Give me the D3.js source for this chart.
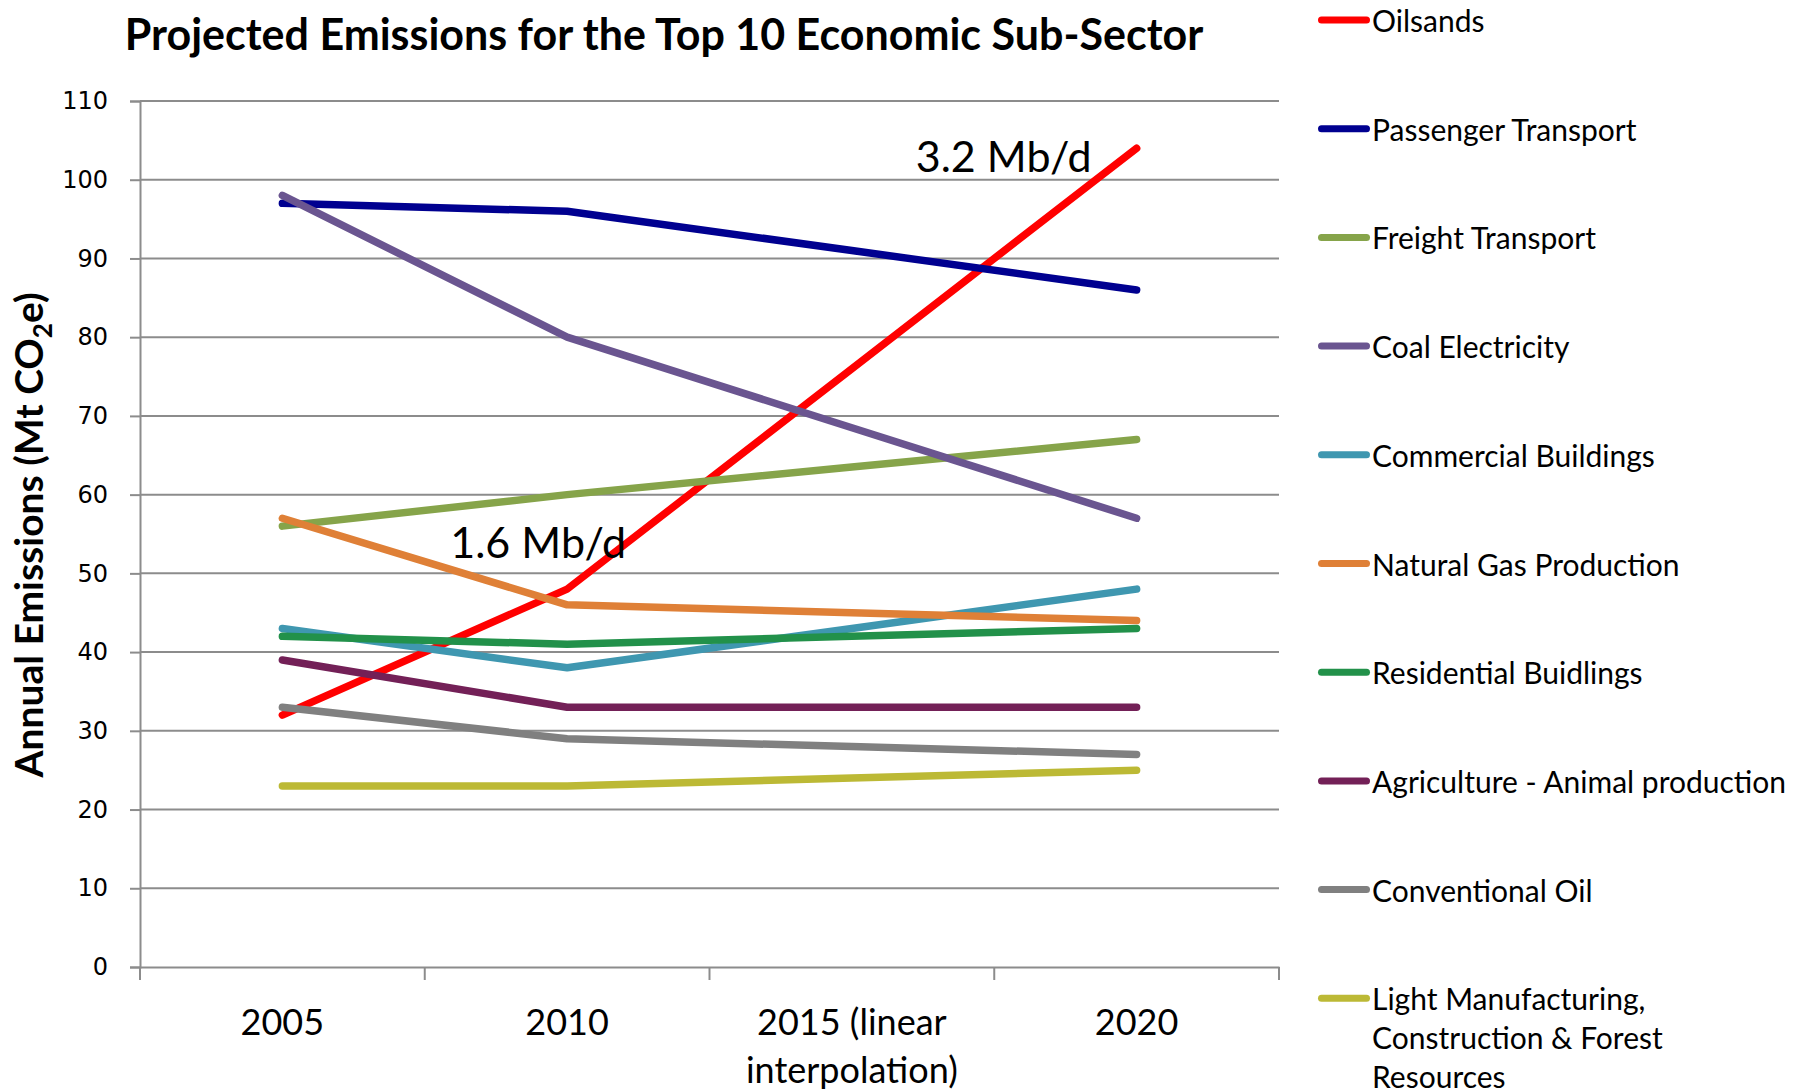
<!DOCTYPE html>
<html>
<head>
<meta charset="utf-8">
<script src="https://cdn.jsdelivr.net/npm/d3@7"></script>
<style>
  body { margin: 0; background: #fff; }
  text { font-family: Lato, "Open Sans", sans-serif; fill: #000; }
</style>
</head>
<body>
<div id="chart"></div>
<script>
// Data (Mt CO2e)
var categories = ["2005", "2010", "2015 (linear interpolation)", "2020"];
var categoryLines = [["2005"], ["2010"], ["2015 (linear", "interpolation)"], ["2020"]];
var seriesNames = ["Oilsands", "Passenger Transport", "Freight Transport", "Coal Electricity",
                   "Commercial Buildings", "Natural Gas Production", "Residential Buidlings",
                   "Agriculture - Animal production", "Conventional Oil",
                   "Light Manufacturing, Construction & Forest Resources"];
var legendLines = [["Oilsands"], ["Passenger Transport"], ["Freight Transport"], ["Coal Electricity"],
                   ["Commercial Buildings"], ["Natural Gas Production"], ["Residential Buidlings"],
                   ["Agriculture - Animal production"], ["Conventional Oil"],
                   ["Light Manufacturing,", "Construction & Forest", "Resources"]];
var oilsands    = [32, 48, 76, 104];
var passenger   = [97, 96, 91, 86];
var freight     = [56, 60, 63.5, 67];
var coal        = [98, 80, 68.5, 57];
var commercial  = [43, 38, 43, 48];
var naturalGas  = [57, 46, 45, 44];
var residential = [42, 41, 42, 43];
var agriculture = [39, 33, 33, 33];
var convOil     = [33, 29, 28, 27];
var lightManuf  = [23, 23, 24, 25];
var seriesValues = [oilsands, passenger, freight, coal, commercial, naturalGas,
                    residential, agriculture, convOil, lightManuf];
var colors = ["#ff0000", "#000090", "#86a44a", "#6a5590", "#3f97b0", "#df8037",
              "#22914a", "#732057", "#808080", "#bcb935"];
var yTicks = [0, 10, 20, 30, 40, 50, 60, 70, 80, 90, 100, 110];
var annotations = [
  { text: "1.6 Mb/d", cat: 1, value: 48 },
  { text: "3.2 Mb/d", cat: 3, value: 104 }
];

var width = 1811, height = 1091;
var plot = { left: 140, right: 1279, top: 101, bottom: 967 };

var svg = d3.select("#chart").append("svg")
    .attr("width", width)
    .attr("height", height)
    .style("background", "#fff");

var x = d3.scaleBand().domain(categories).range([plot.left, plot.right]).padding(0);
var y = d3.scaleLinear().domain([0, 110]).range([plot.bottom, plot.top]);

// gridlines
svg.append("g")
  .selectAll("line")
  .data(yTicks.filter(function(d) { return d > 0; }))
  .enter().append("line")
  .attr("x1", plot.left).attr("x2", plot.right)
  .attr("y1", function(d) { return y(d); })
  .attr("y2", function(d) { return y(d); })
  .attr("stroke", "#8c8c8c")
  .attr("stroke-width", 2);

// y axis
var yAxis = svg.append("g")
  .attr("transform", "translate(" + plot.left + ",0)")
  .call(d3.axisLeft(y).tickValues(yTicks).tickSize(10).tickPadding(22));
yAxis.select(".domain").attr("stroke", "#8c8c8c").attr("stroke-width", 2);
yAxis.selectAll(".tick line").attr("stroke", "#8c8c8c").attr("stroke-width", 2);
yAxis.selectAll(".tick text")
  .style("font-family", "'DejaVu Sans', sans-serif")
  .style("font-size", "24px")
  .attr("fill", "#000");

// x axis: line, boundary ticks, labels
var xAxis = svg.append("g")
  .attr("transform", "translate(0," + plot.bottom + ")")
  .call(d3.axisBottom(x).tickSize(0).tickFormat(""));
xAxis.select(".domain").attr("stroke", "#8c8c8c").attr("stroke-width", 2);

var boundaries = d3.range(categories.length + 1).map(function(i) {
  return x.range()[0] + i * x.step();
});
svg.append("g")
  .selectAll("line")
  .data(boundaries)
  .enter().append("line")
  .attr("x1", function(d) { return d; })
  .attr("x2", function(d) { return d; })
  .attr("y1", plot.bottom)
  .attr("y2", plot.bottom + 13)
  .attr("stroke", "#8c8c8c")
  .attr("stroke-width", 2);

svg.append("g")
  .selectAll("text")
  .data(categories)
  .enter().append("text")
  .attr("text-anchor", "middle")
  .style("font-size", "36px")
  .attr("x", function(d) { return x(d) + x.bandwidth() / 2; })
  .attr("y", 1035)
  .each(function(d, i) {
    var t = d3.select(this);
    categoryLines[i].forEach(function(line, j) {
      t.append("tspan")
        .attr("x", x(d) + x.bandwidth() / 2)
        .attr("dy", j == 0 ? 0 : 48)
        .text(line);
    });
  });

// series lines
var line = d3.line()
  .x(function(d, i) { return x(categories[i]) + x.bandwidth() / 2; })
  .y(function(d) { return y(d); });

svg.append("g")
  .selectAll("path")
  .data(seriesValues)
  .enter().append("path")
  .attr("d", line)
  .attr("fill", "none")
  .attr("stroke", function(d, i) { return colors[i]; })
  .attr("stroke-width", 7.5)
  .attr("stroke-linejoin", "round")
  .attr("stroke-linecap", "round");

// annotations
svg.append("g")
  .selectAll("text")
  .data(annotations)
  .enter().append("text")
  .attr("text-anchor", "end")
  .style("font-size", "43px")
  .attr("x", function(d) { return x(categories[d.cat]) + x.bandwidth() / 2 + (d.cat == 1 ? 59 : -45); })
  .attr("y", function(d) { return y(d.value) + (d.cat == 1 ? -31 : 24); })
  .text(function(d) { return d.text; });

// title
var title = svg.append("text")
  .attr("x", 664)
  .attr("y", 50)
  .attr("text-anchor", "middle")
  .style("font-size", "43px")
  .style("font-weight", "bold")
  .text("Projected Emissions for the Top 10 Economic Sub-Sector");
if (title.node().getComputedTextLength() > 1092) {
  title.attr("textLength", 1092).attr("lengthAdjust", "spacingAndGlyphs");
}

// y axis title
var yTitle = svg.append("text")
  .attr("transform", "translate(43,535) rotate(-90)")
  .attr("text-anchor", "middle")
  .style("font-size", "39px")
  .style("font-weight", "bold");
yTitle.append("tspan").text("Annual Emissions (Mt CO");
yTitle.append("tspan").attr("dy", 9).style("font-size", "26px").text("2");
yTitle.append("tspan").attr("dy", -9).text("e)");

// legend
var legend = svg.append("g")
  .selectAll("g")
  .data(seriesNames)
  .enter().append("g")
  .attr("transform", function(d, i) { return "translate(1318," + (20 + i * 108.7) + ")"; });

legend.append("line")
  .attr("x1", 3.5).attr("x2", 48.5)
  .attr("y1", 0).attr("y2", 0)
  .attr("stroke", function(d, i) { return colors[i]; })
  .attr("stroke-width", 7)
  .attr("stroke-linecap", "round");

legend.append("text")
  .attr("x", 54)
  .attr("y", 12)
  .style("font-size", "30px")
  .each(function(d, i) {
    var t = d3.select(this);
    legendLines[i].forEach(function(l, j) {
      t.append("tspan")
        .attr("x", 54)
        .attr("dy", j == 0 ? 0 : 39)
        .text(l);
    });
  });
</script>
</body>
</html>
